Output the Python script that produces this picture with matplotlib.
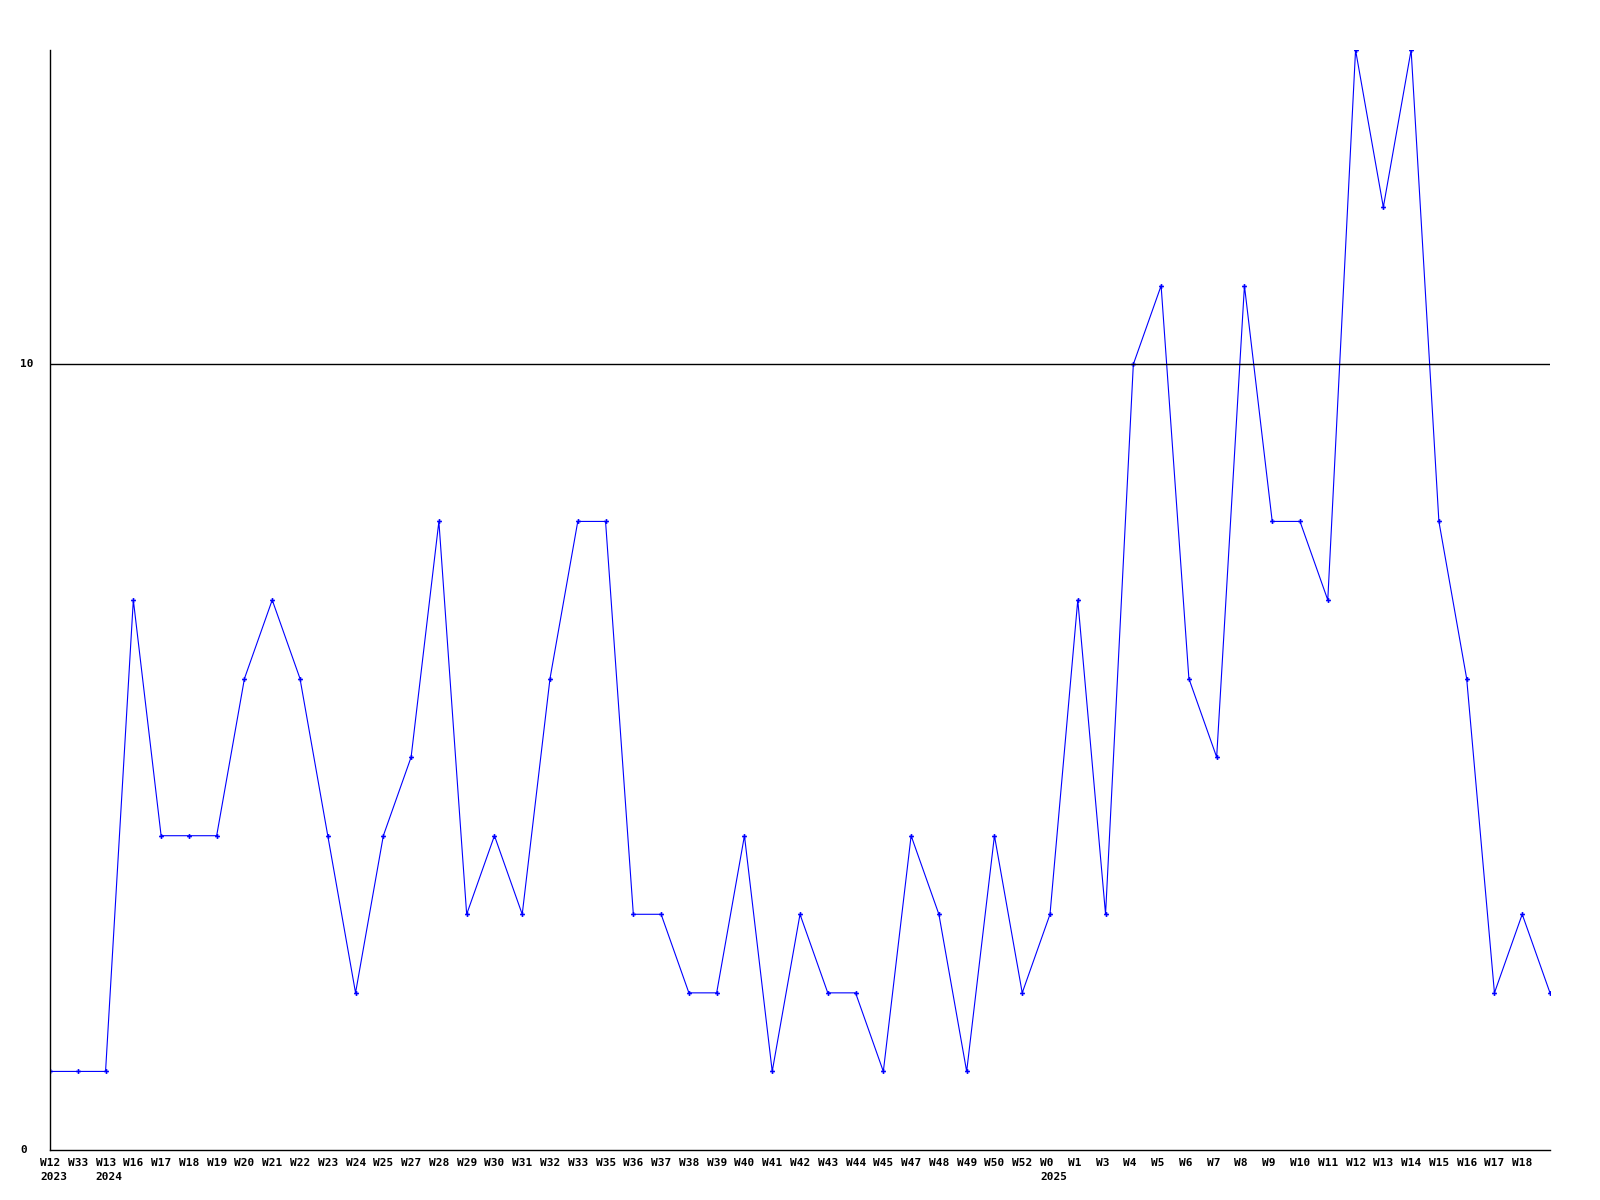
import matplotlib
matplotlib.use('Agg')
import matplotlib.pyplot as plt
from matplotlib.transforms import offset_copy

# week labels (year shown under first week of each year)
weeks = ['W12', 'W33', 'W13', 'W16', 'W17', 'W18', 'W19', 'W20', 'W21', 'W22',
         'W23', 'W24', 'W25', 'W27', 'W28', 'W29', 'W30', 'W31', 'W32', 'W33',
         'W35', 'W36', 'W37', 'W38', 'W39', 'W40', 'W41', 'W42', 'W43', 'W44',
         'W45', 'W47', 'W48', 'W49', 'W50', 'W52', 'W0', 'W1', 'W3', 'W4',
         'W5', 'W6', 'W7', 'W8', 'W9', 'W10', 'W11', 'W12', 'W13', 'W14',
         'W15', 'W16', 'W17', 'W18', '']
years = {0: '2023', 2: '2024', 36: '2025'}

counts = [1, 1, 1, 7, 4, 4, 4, 6, 7, 6,
          4, 2, 4, 5, 8, 3, 4, 3, 6, 8,
          8, 3, 3, 2, 2, 4, 1, 3, 2, 2,
          1, 4, 3, 1, 4, 2, 3, 7, 3, 10,
          11, 6, 5, 11, 8, 8, 7, 14, 12, 14,
          8, 6, 2, 3, 2]

yticks = [0, 10]

fig = plt.figure(figsize=(16, 12), dpi=100)
ax = fig.add_axes([50 / 1600, 50 / 1200, 1500 / 1600, 1100 / 1200])

x = list(range(len(counts)))
ax.plot(x, counts, color='#0000ff', lw=0.8, marker='P', ms=3.5, mew=0)

ax.set_xlim(0, len(counts) - 1)
ax.set_ylim(0, 14)

for s in ['top', 'right']:
    ax.spines[s].set_visible(False)
for s in ['left', 'bottom']:
    ax.spines[s].set_linewidth(1)

for yv in yticks:
    if yv > 0:
        ax.axhline(yv, color='black', lw=1)

ax.set_xticks([])
ax.set_yticks([])

font = dict(family='DejaVu Sans Mono', fontweight='bold', fontsize=8)

# x labels, left aligned just before each point
trans = offset_copy(ax.transData, fig=fig, x=-10, y=-8, units='dots')
for i, w in enumerate(weeks):
    lab = w
    if i in years:
        lab = w + '\n' + years[i]
    ax.text(i, 0, lab, transform=trans, ha='left', va='top',
            linespacing=1.5, clip_on=False, **font)

# y labels
ytrans = offset_copy(ax.transData, fig=fig, x=-30, y=0, units='dots')
for yv in yticks:
    ax.text(0, yv, str(yv), transform=ytrans, ha='left', va='center',
            clip_on=False, **font)

fig.savefig('out.png', dpi=100)
